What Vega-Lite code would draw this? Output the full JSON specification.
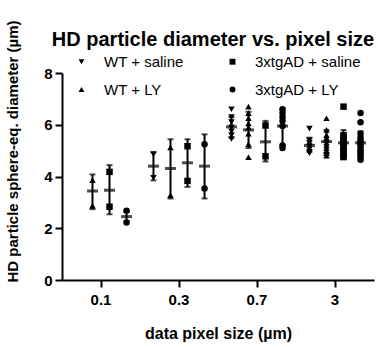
{
  "$schema": "https://vega.github.io/schema/vega-lite/v6.json",
  "width": 312,
  "height": 207,
  "autosize": {"type": "none"},
  "padding": {"left": 62, "top": 73, "right": 4, "bottom": 67},
  "config": {
    "font": "Liberation Sans",
    "view": {"stroke": null},
    "axis": {"domainColor": "black", "domainWidth": 2, "tickColor": "black", "tickWidth": 2, "tickSize": 7, "labelColor": "black", "titleColor": "black", "labelFontWeight": "bold", "labelFontSize": 15, "titleFontWeight": "bold", "titleFontSize": 15, "grid": false}
  },
  "title": {"text": "HD particle diameter vs. pixel size", "fontSize": 20, "fontWeight": "bold", "color": "black", "anchor": "middle", "frame": "group", "offset": 0, "dx": -5, "dy": 30},
  "datasets": {
    "points": [
      {"size": "0.1", "group": "WT + LY", "v": 3.86}, {"size": "0.1", "group": "WT + LY", "v": 2.87},
      {"size": "0.1", "group": "3xtgAD + saline", "v": 4.18}, {"size": "0.1", "group": "3xtgAD + saline", "v": 2.83},
      {"size": "0.1", "group": "3xtgAD + LY", "v": 2.68}, {"size": "0.1", "group": "3xtgAD + LY", "v": 2.22},
      {"size": "0.3", "group": "WT + saline", "v": 4.85}, {"size": "0.3", "group": "WT + saline", "v": 3.95},
      {"size": "0.3", "group": "WT + LY", "v": 5.12}, {"size": "0.3", "group": "WT + LY", "v": 3.28},
      {"size": "0.3", "group": "3xtgAD + saline", "v": 5.17}, {"size": "0.3", "group": "3xtgAD + saline", "v": 3.83},
      {"size": "0.3", "group": "3xtgAD + LY", "v": 5.25}, {"size": "0.3", "group": "3xtgAD + LY", "v": 3.54},
      {"size": "0.7", "group": "WT + saline", "v": 6.6}, {"size": "0.7", "group": "WT + saline", "v": 6.3}, {"size": "0.7", "group": "WT + saline", "v": 6.1}, {"size": "0.7", "group": "WT + saline", "v": 5.9}, {"size": "0.7", "group": "WT + saline", "v": 5.75}, {"size": "0.7", "group": "WT + saline", "v": 5.6}, {"size": "0.7", "group": "WT + saline", "v": 5.45},
      {"size": "0.7", "group": "WT + LY", "v": 6.7}, {"size": "0.7", "group": "WT + LY", "v": 6.45}, {"size": "0.7", "group": "WT + LY", "v": 6.25}, {"size": "0.7", "group": "WT + LY", "v": 6.05}, {"size": "0.7", "group": "WT + LY", "v": 5.9}, {"size": "0.7", "group": "WT + LY", "v": 5.65}, {"size": "0.7", "group": "WT + LY", "v": 5.25}, {"size": "0.7", "group": "WT + LY", "v": 4.75},
      {"size": "0.7", "group": "3xtgAD + saline", "v": 5.97}, {"size": "0.7", "group": "3xtgAD + saline", "v": 4.78},
      {"size": "0.7", "group": "3xtgAD + LY", "v": 6.6}, {"size": "0.7", "group": "3xtgAD + LY", "v": 6.45}, {"size": "0.7", "group": "3xtgAD + LY", "v": 6.3}, {"size": "0.7", "group": "3xtgAD + LY", "v": 6.15}, {"size": "0.7", "group": "3xtgAD + LY", "v": 5.95}, {"size": "0.7", "group": "3xtgAD + LY", "v": 5.2}, {"size": "0.7", "group": "3xtgAD + LY", "v": 5.1},
      {"size": "3", "group": "WT + saline", "v": 5.85}, {"size": "3", "group": "WT + saline", "v": 5.4}, {"size": "3", "group": "WT + saline", "v": 5.3}, {"size": "3", "group": "WT + saline", "v": 5.2}, {"size": "3", "group": "WT + saline", "v": 5.15}, {"size": "3", "group": "WT + saline", "v": 5.05}, {"size": "3", "group": "WT + saline", "v": 4.95}, {"size": "3", "group": "WT + saline", "v": 4.9},
      {"size": "3", "group": "WT + LY", "v": 6.25}, {"size": "3", "group": "WT + LY", "v": 5.8}, {"size": "3", "group": "WT + LY", "v": 5.6}, {"size": "3", "group": "WT + LY", "v": 5.5}, {"size": "3", "group": "WT + LY", "v": 5.4}, {"size": "3", "group": "WT + LY", "v": 5.3}, {"size": "3", "group": "WT + LY", "v": 5.2}, {"size": "3", "group": "WT + LY", "v": 5.1}, {"size": "3", "group": "WT + LY", "v": 5.0}, {"size": "3", "group": "WT + LY", "v": 4.9}, {"size": "3", "group": "WT + LY", "v": 4.8},
      {"size": "3", "group": "3xtgAD + saline", "v": 6.7}, {"size": "3", "group": "3xtgAD + saline", "v": 5.6}, {"size": "3", "group": "3xtgAD + saline", "v": 5.5}, {"size": "3", "group": "3xtgAD + saline", "v": 5.4}, {"size": "3", "group": "3xtgAD + saline", "v": 5.3}, {"size": "3", "group": "3xtgAD + saline", "v": 5.2}, {"size": "3", "group": "3xtgAD + saline", "v": 5.1}, {"size": "3", "group": "3xtgAD + saline", "v": 5.0}, {"size": "3", "group": "3xtgAD + saline", "v": 4.9}, {"size": "3", "group": "3xtgAD + saline", "v": 4.8}, {"size": "3", "group": "3xtgAD + saline", "v": 4.75},
      {"size": "3", "group": "3xtgAD + LY", "v": 6.45}, {"size": "3", "group": "3xtgAD + LY", "v": 6.1}, {"size": "3", "group": "3xtgAD + LY", "v": 5.65}, {"size": "3", "group": "3xtgAD + LY", "v": 5.5}, {"size": "3", "group": "3xtgAD + LY", "v": 5.4}, {"size": "3", "group": "3xtgAD + LY", "v": 5.3}, {"size": "3", "group": "3xtgAD + LY", "v": 5.2}, {"size": "3", "group": "3xtgAD + LY", "v": 5.1}, {"size": "3", "group": "3xtgAD + LY", "v": 5.0}, {"size": "3", "group": "3xtgAD + LY", "v": 4.95}, {"size": "3", "group": "3xtgAD + LY", "v": 4.85}, {"size": "3", "group": "3xtgAD + LY", "v": 4.75}, {"size": "3", "group": "3xtgAD + LY", "v": 4.65}
    ],
    "summary": [
      {"size": "0.1", "group": "WT + LY", "mean": 3.44, "lo": 2.74, "hi": 4.08},
      {"size": "0.1", "group": "3xtgAD + saline", "mean": 3.47, "lo": 2.54, "hi": 4.44},
      {"size": "0.1", "group": "3xtgAD + LY", "mean": 2.45, "lo": 2.27, "hi": 2.63},
      {"size": "0.3", "group": "WT + saline", "mean": 4.4, "lo": 3.85, "hi": 4.95},
      {"size": "0.3", "group": "WT + LY", "mean": 4.31, "lo": 3.15, "hi": 5.44},
      {"size": "0.3", "group": "3xtgAD + saline", "mean": 4.53, "lo": 3.6, "hi": 5.44},
      {"size": "0.3", "group": "3xtgAD + LY", "mean": 4.4, "lo": 3.15, "hi": 5.63},
      {"size": "0.7", "group": "WT + saline", "mean": 5.92, "lo": 5.5, "hi": 6.3},
      {"size": "0.7", "group": "WT + LY", "mean": 5.8, "lo": 5.1, "hi": 6.5},
      {"size": "0.7", "group": "3xtgAD + saline", "mean": 5.34, "lo": 4.58, "hi": 6.15},
      {"size": "0.7", "group": "3xtgAD + LY", "mean": 5.95, "lo": 5.2, "hi": 6.6},
      {"size": "3", "group": "WT + saline", "mean": 5.2, "lo": 4.95, "hi": 5.5},
      {"size": "3", "group": "WT + LY", "mean": 5.35, "lo": 4.9, "hi": 5.8},
      {"size": "3", "group": "3xtgAD + saline", "mean": 5.3, "lo": 4.8, "hi": 5.8},
      {"size": "3", "group": "3xtgAD + LY", "mean": 5.3, "lo": 4.85, "hi": 5.75}
    ]
  },
  "encoding": {
    "x": {"field": "size", "type": "nominal", "sort": ["0.1", "0.3", "0.7", "3"], "scale": {"paddingInner": 0, "paddingOuter": 0}, "axis": {"title": "data pixel size (µm)", "labelAngle": 0, "labelPadding": 5, "titlePadding": 18, "titleFontSize": 16}},
    "xOffset": {"field": "group", "type": "nominal", "sort": ["WT + saline", "WT + LY", "3xtgAD + saline", "3xtgAD + LY"], "scale": {"paddingInner": 0, "paddingOuter": 0.29}}
  },
  "layer": [
    {
      "data": {"name": "summary"},
      "mark": {"type": "rule", "color": "black", "strokeWidth": 2},
      "encoding": {
        "y": {"field": "lo", "type": "quantitative", "scale": {"domain": [0, 8]}, "axis": {"title": "HD particle sphere-eq. diameter (µm)", "values": [0, 2, 4, 6, 8], "labelPadding": 3, "titleX": -50, "titleY": 78, "titleBaseline": "middle", "titleAlign": "center", "titleAngle": -90}},
        "y2": {"field": "hi"}
      }
    },
    {
      "data": {"name": "summary"},
      "mark": {"type": "tick", "color": "black", "thickness": 2, "size": 6, "orient": "horizontal"},
      "encoding": {"y": {"field": "lo", "type": "quantitative"}}
    },
    {
      "data": {"name": "summary"},
      "mark": {"type": "tick", "color": "black", "thickness": 2, "size": 6, "orient": "horizontal"},
      "encoding": {"y": {"field": "hi", "type": "quantitative"}}
    },
    {
      "data": {"name": "summary"},
      "mark": {"type": "tick", "color": "black", "thickness": 3, "size": 11, "orient": "horizontal"},
      "encoding": {"y": {"field": "mean", "type": "quantitative"}}
    },
    {
      "data": {"name": "points"},
      "mark": {"type": "point", "filled": true, "color": "black", "opacity": 1, "size": 42},
      "encoding": {
        "y": {"field": "v", "type": "quantitative"},
        "shape": {
          "field": "group", "type": "nominal",
          "scale": {"domain": ["WT + saline", "WT + LY", "3xtgAD + saline", "3xtgAD + LY"], "range": ["triangle-down", "triangle-up", "square", "circle"]},
          "legend": {"title": null, "orient": "none", "legendX": 12, "legendY": -19, "columns": 2, "labelFontSize": 15, "labelColor": "black", "symbolSize": 35, "symbolFillColor": "black", "symbolStrokeColor": "black", "labelOffset": 15, "columnPadding": 41, "rowPadding": 12}
        }
      }
    }
  ]
}
